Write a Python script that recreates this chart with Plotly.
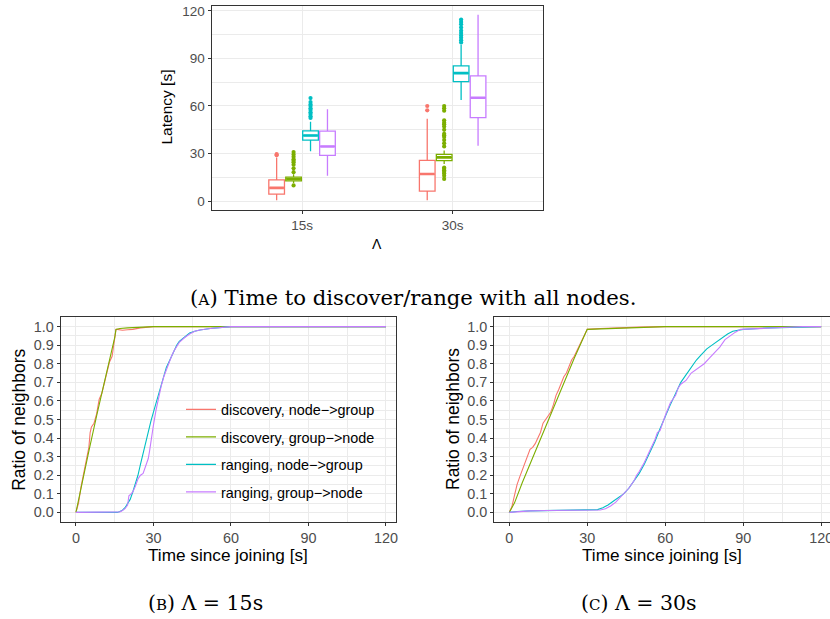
import plotly.graph_objects as go

# ---------------- data ----------------
SERIES = ["discovery, node\u2212>group", "discovery, group\u2212>node",
          "ranging, node\u2212>group", "ranging, group\u2212>node"]
COLORS = ["#F8766D", "#7CAE00", "#00BFC4", "#C77CFF"]
LAMBDA_LABELS = ["15s", "30s"]

# box statistics per series, per Lambda [15s, 30s]
lat_lowerfence = [[0.6, 0.6], [11.5, 23.5], [31.4, 63.8], [16.0, 35.0]]
lat_q1 = [[4.4, 6.3], [12.8, 25.5], [38.5, 75.3], [28.9, 52.7]]
lat_median = [[8.4, 17.1], [14.0, 27.6], [41.4, 80.7], [34.5, 65.2]]
lat_q3 = [[13.4, 25.7], [15.2, 29.5], [44.3, 85.3], [44.1, 79.0]]
lat_upperfence = [[27.5, 52.0], [17.0, 32.0], [50.0, 98.5], [58.0, 117.5]]
lat_outliers = [
    [[29.0, 29.6], [57.3, 60.0]],
    [[9.9, 18.3, 20.7, 23.0, 24.5, 25.5, 26.5, 28.0, 29.5, 31.0],
     [14.0, 16.0, 17.5, 18.5, 19.5, 20.5, 21.2, 34.5, 36.5, 38.5, 40.5, 41.5,
      42.5, 45.0, 47.0, 48.5, 49.5, 51.0, 57.0, 58.5, 60.0]],
    [[52.5, 53.5, 55.0, 56.0, 57.5, 58.5, 60.0, 61.0, 62.5, 65.0],
     [100.0, 101.5, 103.0, 104.5, 106.0, 107.5, 109.5, 111.5, 113.0, 114.5]],
    [[], []],
]

# ECDF curves, Lambda = 15s
l15_x = [
    [0, 1, 2, 3, 4, 5, 5.5, 6, 7, 8, 9, 10, 11, 12, 13, 14, 14.5, 15, 15.5, 16, 18, 20, 22, 25, 28, 30, 120],
    [0, 1, 3, 5, 8, 10, 12, 14, 15, 15.5, 17, 20, 25, 30, 120],
    [0, 16, 17, 18, 19, 20, 21, 22, 23, 24, 25, 26, 27, 28, 29, 30, 31, 32, 33, 34, 35, 36, 37, 38, 39, 40,
     42, 44, 46, 48, 52, 56, 60, 120],
    [0, 16, 17, 18, 19, 20, 20.5, 21, 22, 23, 24, 25, 26, 27, 28, 28.5, 29, 30, 31, 32, 33, 34, 35, 36, 37,
     38, 39, 40, 42, 44, 46, 48, 52, 56, 60, 120],
]
l15_y = [
    [0, 0.05, 0.14, 0.22, 0.28, 0.35, 0.43, 0.46, 0.48, 0.53, 0.61, 0.64, 0.70, 0.76, 0.81, 0.84, 0.90, 0.95,
     0.985, 0.985, 0.98, 0.983, 0.985, 0.993, 0.998, 1.0, 1.0],
    [0, 0.07, 0.2, 0.33, 0.52, 0.64, 0.76, 0.87, 0.94, 0.985, 0.99, 0.993, 0.997, 1.0, 1.0],
    [0, 0, 0.005, 0.012, 0.025, 0.045, 0.07, 0.11, 0.15, 0.2, 0.26, 0.32, 0.37, 0.43, 0.49, 0.54, 0.59, 0.64,
     0.69, 0.74, 0.78, 0.81, 0.84, 0.87, 0.9, 0.92, 0.945, 0.965, 0.975, 0.982, 0.99, 0.996, 1.0, 1.0],
    [0, 0, 0.003, 0.01, 0.02, 0.04, 0.09, 0.095, 0.11, 0.14, 0.18, 0.2, 0.21, 0.25, 0.29, 0.33, 0.38, 0.47,
     0.55, 0.62, 0.68, 0.73, 0.77, 0.8, 0.84, 0.87, 0.895, 0.915, 0.94, 0.96, 0.975, 0.982, 0.99, 0.996,
     1.0, 1.0],
]

# ECDF curves, Lambda = 30s
l30_x = [
    [0, 1, 2, 3, 4, 5, 6, 7, 8, 9, 10, 11, 12, 13, 14, 15, 16, 17, 18, 19, 20, 21, 22, 23, 24, 25, 26, 27,
     28, 29, 30, 35, 40, 50, 60, 120],
    [0, 2, 5, 10, 15, 20, 25, 30, 40, 50, 60, 120],
    [0, 3, 8, 15, 30, 34, 36, 38, 40, 42, 44, 46, 48, 50, 52, 54, 56, 58, 60, 62, 64, 66, 68, 70, 72, 74,
     76, 78, 80, 82, 84, 86, 88, 90, 100, 110, 115, 120],
    [0, 3, 8, 15, 30, 35, 37, 39, 41, 43, 44, 46, 48, 49, 50, 52, 54, 56, 57, 58, 60, 62, 64, 65, 66, 67,
     68, 70, 72, 74, 75, 77, 79, 81, 83, 85, 87, 89, 95, 105, 113, 120],
]
l30_y = [
    [0, 0.03, 0.09, 0.15, 0.19, 0.23, 0.27, 0.31, 0.34, 0.35, 0.37, 0.4, 0.43, 0.48, 0.5, 0.52, 0.54, 0.58,
     0.63, 0.66, 0.7, 0.73, 0.75, 0.79, 0.82, 0.84, 0.87, 0.9, 0.93, 0.96, 0.985, 0.99, 0.993, 0.997, 1.0, 1.0],
    [0, 0.05, 0.16, 0.33, 0.5, 0.67, 0.83, 0.985, 0.99, 0.995, 1.0, 1.0],
    [0, 0.005, 0.008, 0.01, 0.012, 0.015, 0.025, 0.04, 0.06, 0.08, 0.1, 0.13, 0.17, 0.21, 0.26, 0.32, 0.38,
     0.45, 0.52, 0.58, 0.64, 0.7, 0.74, 0.78, 0.82, 0.85, 0.88, 0.9, 0.92, 0.94, 0.96, 0.975, 0.98, 0.985,
     0.993, 0.998, 1.0, 1.0],
    [0, 0.004, 0.008, 0.01, 0.012, 0.013, 0.02, 0.035, 0.055, 0.085, 0.1, 0.13, 0.17, 0.2, 0.22, 0.27, 0.33,
     0.39, 0.43, 0.44, 0.52, 0.59, 0.63, 0.67, 0.69, 0.7, 0.71, 0.75, 0.77, 0.79, 0.8, 0.83, 0.86, 0.89,
     0.93, 0.95, 0.97, 0.985, 0.99, 0.995, 1.0, 1.0],
]

# ---------------- styling ----------------
W, H = 830, 619
FONT = "Liberation Sans, Arial, sans-serif"
SERIF = "DejaVu Serif, Liberation Serif, serif"
TICK_COL = "#4D4D4D"
BORDER = "#333333"
GRID = "#EBEBEB"


def px_x(p):
    return p / W


def px_y(p):
    return 1 - p / H


fig = go.Figure()

# ---- top box plot ----
cat_pos = [1, 2]
dodge = 0.1125
box_w = 0.104
for i, name in enumerate(SERIES):
    off = (i - 1.5) * dodge
    xs = [p + off for p in cat_pos]
    fig.add_trace(go.Box(
        x=xs, q1=lat_q1[i], median=lat_median[i], q3=lat_q3[i],
        lowerfence=lat_lowerfence[i], upperfence=lat_upperfence[i],
        width=box_w, whiskerwidth=0, fillcolor="white",
        line=dict(color=COLORS[i], width=1.3), boxpoints=False,
        showlegend=False, xaxis="x", yaxis="y", hoverinfo="skip"))
    # thicker median bars (ggplot style)
    mx, my = [], []
    for j, p in enumerate(xs):
        mx += [p - box_w / 2 + 0.004, p + box_w / 2 - 0.004, None]
        my += [lat_median[i][j], lat_median[i][j], None]
    fig.add_trace(go.Scatter(x=mx, y=my, mode="lines",
                             line=dict(color=COLORS[i], width=2.6),
                             showlegend=False, xaxis="x", yaxis="y", hoverinfo="skip"))
    ox, oy = [], []
    for j, p in enumerate(xs):
        ox += [p] * len(lat_outliers[i][j])
        oy += lat_outliers[i][j]
    fig.add_trace(go.Scatter(x=ox, y=oy, mode="markers",
                             marker=dict(color=COLORS[i], size=4.2),
                             showlegend=False, xaxis="x", yaxis="y", hoverinfo="skip"))

# ---- ECDF panels ----
for i, name in enumerate(SERIES):
    fig.add_trace(go.Scatter(x=l15_x[i], y=l15_y[i], mode="lines", name=name,
                             line=dict(color=COLORS[i], width=1.1),
                             legendgroup=f"g{i}", showlegend=True,
                             xaxis="x2", yaxis="y2"))
for i, name in enumerate(SERIES):
    fig.add_trace(go.Scatter(x=l30_x[i], y=l30_y[i], mode="lines", name=name,
                             line=dict(color=COLORS[i], width=1.1),
                             legendgroup=f"g{i}", showlegend=False,
                             xaxis="x3", yaxis="y3"))

axis_common = dict(showgrid=True, gridcolor=GRID, gridwidth=1.1, zeroline=False,
                   showline=True, linecolor=BORDER, linewidth=1.3, automargin=False,
                   ticks="outside", ticklen=3, tickwidth=1, tickcolor=BORDER,
                   ticklabeloverflow="allow")

TOP_Y = [209.5, 5.5]
BOT_Y = [521.7, 317.3]

fig.update_layout(
    width=W, height=H, margin=dict(l=0, r=0, t=0, b=0),
    paper_bgcolor="white", plot_bgcolor="white",
    font=dict(family=FONT, color=TICK_COL),
    xaxis=dict(domain=[px_x(211.7), px_x(543)], range=[0.4, 2.6],
               tickvals=cat_pos, ticktext=LAMBDA_LABELS, mirror=True,
               tickfont=dict(size=13.5, color=TICK_COL), anchor="y", **axis_common),
    yaxis=dict(domain=[px_y(TOP_Y[0]), px_y(TOP_Y[1])], range=[-5.25, 123.35],
               tickvals=[0, 30, 60, 90, 120], mirror=True,
               minor=dict(tickvals=[15, 45, 75, 105], showgrid=True, gridcolor=GRID,
                          gridwidth=0.6, ticks=""),
               tickfont=dict(size=13.5, color=TICK_COL), anchor="x", **axis_common),
    xaxis2=dict(domain=[px_x(60.7), px_x(396)], range=[-5.9, 123.9],
                tickvals=[0, 30, 60, 90, 120], mirror=True,
                minor=dict(tickvals=[15, 45, 75, 105], showgrid=True, gridcolor=GRID,
                           gridwidth=0.6, ticks=""),
                tickfont=dict(size=14.4, color=TICK_COL), anchor="y2", **axis_common),
    yaxis2=dict(domain=[px_y(BOT_Y[0]), px_y(BOT_Y[1])], range=[-0.05, 1.05],
                tickvals=[k / 10 for k in range(11)], tickformat=".1f", mirror=True,
                minor=dict(tickvals=[k / 10 + 0.05 for k in range(10)], showgrid=True,
                           gridcolor=GRID, gridwidth=0.6, ticks=""),
                tickfont=dict(size=14.4, color=TICK_COL), anchor="x2", **axis_common),
    xaxis3=dict(domain=[px_x(494.3), 1.0], range=[-5.75, 123.4],
                tickvals=[0, 30, 60, 90, 120], mirror=True,
                minor=dict(tickvals=[15, 45, 75, 105], showgrid=True, gridcolor=GRID,
                           gridwidth=0.6, ticks=""),
                tickfont=dict(size=14.4, color=TICK_COL), anchor="y3", **axis_common),
    yaxis3=dict(domain=[px_y(BOT_Y[0]), px_y(BOT_Y[1])], range=[-0.05, 1.05],
                tickvals=[k / 10 for k in range(11)], tickformat=".1f", mirror=False,
                minor=dict(tickvals=[k / 10 + 0.05 for k in range(10)], showgrid=True,
                           gridcolor=GRID, gridwidth=0.6, ticks=""),
                tickfont=dict(size=14.4, color=TICK_COL), anchor="x3", **axis_common),
    legend=dict(x=px_x(181), y=px_y(393.5), xanchor="left", yanchor="top",
                bgcolor="rgba(0,0,0,0)", borderwidth=0, tracegroupgap=5.8,
                font=dict(size=14.4, color="black", family=FONT)),
    showlegend=True,
)

# legend background panel (covers grid, under traces)
fig.add_shape(type="rect", xref="paper", yref="paper",
              x0=px_x(177), x1=px_x(387.5), y0=px_y(512), y1=px_y(373),
              fillcolor="white", line=dict(width=0), layer="between")


def label(text, x, y, size, angle=0, family=FONT, color="black"):
    fig.add_annotation(text=text, x=px_x(x), y=px_y(y), xref="paper", yref="paper",
                       xanchor="center", yanchor="middle", textangle=angle,
                       showarrow=False, font=dict(size=size, color=color, family=family))


# axis titles
label("Latency [s]", 166, 107.5, 15.5, angle=-90)
label("\u039b", 377.3, 244, 14)
for xc in [18.3, 452.5]:
    label("Ratio of neighbors", xc, 419.5, 17.5, angle=-90)
for xc in [228.3, 662]:
    label("Time since joining [s]", xc, 554.5, 17.2)

# captions
label("(<span style='font-size:15.5px'>A</span>) Time to discover/range with all nodes.",
      413, 297, 21.2, family=SERIF)
label("(<span style='font-size:15px'>B</span>) \u039b = 15s", 205, 603, 20.5, family=SERIF)
label("(<span style='font-size:15px'>C</span>) \u039b = 30s", 639, 603, 20.5, family=SERIF)

fig.write_html("out.html")
